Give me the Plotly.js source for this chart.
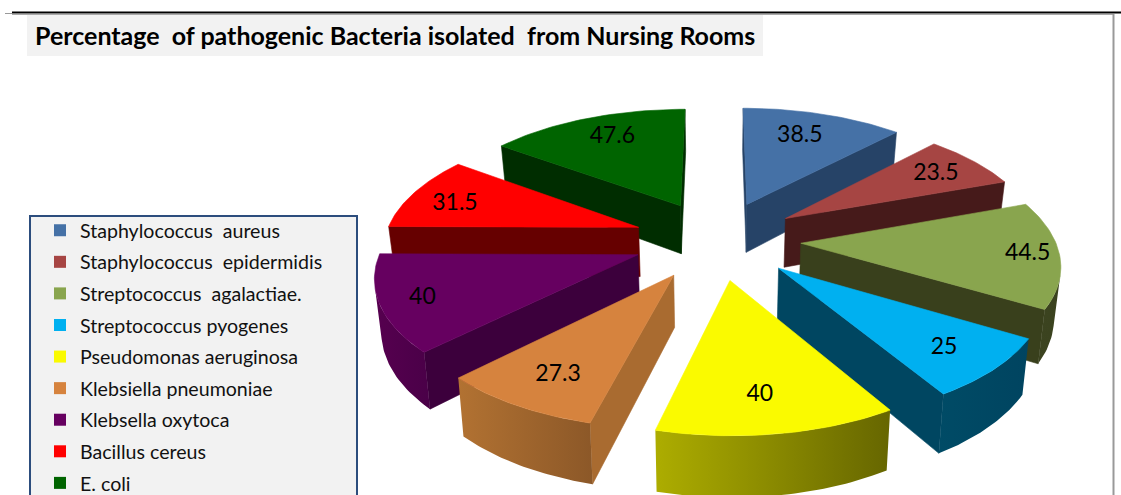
<!DOCTYPE html>
<html>
<head>
<meta charset="utf-8">
<script src="https://cdn.plot.ly/plotly-3.0.1.min.js"></script>
<style>html,body{margin:0;padding:0;background:#fff;overflow:hidden}</style>
</head>
<body>
<div id="chart" style="width:1121px;height:495px"></div>
<script>
// ---- data ----
var categories = ["Staphylococcus  aureus","Staphylococcus  epidermidis","Streptococcus  agalactiae.","Streptococcus pyogenes","Pseudomonas aeruginosa","Klebsiella pneumoniae","Klebsella oxytoca","Bacillus cereus","E. coli"];
var values = [38.5,23.5,44.5,25,40,27.3,40,31.5,47.6];
var topColors = ["#4571a6","#a64543","#89a54e","#00b0f0","#fafa00","#d6833e","#660060","#ff0000","#006400"];
var cutColors = ["#264367","#461a1a","#39401c","#004661","#6a6a00","#a96b30","#3c003c","#660000","#002d00"];
var wallLeft  = ["#3a5f8c","#5a2020","#3c4420","#004b66","#adad00","#b27232","#56004f","#7a0000","#003a00"];
var wallRight = ["#2a4a70","#461a1a","#3a421e","#004460","#666600","#8c5828","#4a0048","#660000","#002d00"];
var labelDx = [-9,0,23,-1,-7,5,-14,-5,8];
var labelDy = [5,2,2,2,-2,0,5,5,2];
var drawOrder = [0,8,1,7,2,6,3,5,4];

// ---- projection of the exploded 3-D pie ----
var CX=717, CY=239.5, AX=254, BY=119.5, KP=0.145, EXPL=0.33, DEPTH=50, SHRINK=0.98, LABEL_R=1.12;
function persp(X,Y){var s=1/(1+KP*Y);return {x:CX+AX*X*s,y:CY-BY*Y*s,s:s};}
function lower(p){return {x:CX+(p.x-CX)*SHRINK,y:p.y+DEPTH*p.s};}
function rad(v,total){return v/total*2*Math.PI;}
function area(pts){var a=0;for(var i=0;i<pts.length;i++){var p=pts[i],q=pts[(i+1)%pts.length];a+=p.x*q.y-q.x*p.y;}return a/2;}
function poly(pts,color,extra){
  var xs=pts.map(function(p){return p.x;}),ys=pts.map(function(p){return p.y;});
  xs.push(xs[0]);ys.push(ys[0]);
  var t={type:'scatter',mode:'lines',x:xs,y:ys,fill:'toself',fillcolor:color,line:{color:color,width:0.6},showlegend:false,hoverinfo:'skip'};
  if(extra){for(var k in extra)t[k]=extra[k];}
  return t;
}
var total=values.reduce(function(a,b){return a+b;},0);
var starts=[],c=0;values.forEach(function(v){starts.push(c);c+=v;});
var traces=[],labelX=[],labelY=[],labelT=[];

// legend entries
categories.forEach(function(name,i){
  traces.push({type:'scatter',mode:'markers',x:[null],y:[null],name:name,legendgroup:'g'+i,showlegend:true,
    marker:{symbol:'square',size:12,color:topColors[i]},hoverinfo:'skip'});
});

drawOrder.forEach(function(i){
  var t0=rad(starts[i],total),t1=rad(starts[i]+values[i],total),mid=(t0+t1)/2;
  var ax=EXPL*Math.sin(mid),ay=EXPL*Math.cos(mid);
  var apex=persp(ax,ay),n=40,arc=[];
  for(var k=0;k<=n;k++){var th=t0+(t1-t0)*k/n;arc.push(persp(ax+Math.sin(th),ay+Math.cos(th)));}
  var apexB=lower(apex),arcB=arc.map(lower),pN=arc[n],p0=arc[0];
  // cut faces
  var f1=[apex,pN,arcB[n],apexB],f0=[p0,apex,apexB,arcB[0]];
  if(area(f0)>0)traces.push(poly(f0,cutColors[i]));
  if(area(f1)>0)traces.push(poly(f1,cutColors[i]));
  // outer wall: only the front-facing part of the rim
  var run=[];
  function flush(){
    if(run.length<2){run=[];return;}
    var tops=run.map(function(j){return arc[j];}),bots=run.map(function(j){return arcB[j];}).reverse();
    traces.push(poly(tops.concat(bots),wallRight[i],{fillgradient:{type:'horizontal',colorscale:[[0,wallLeft[i]],[1,wallRight[i]]]},line:{width:0}}));
    run=[];
  }
  for(var j=0;j<n;j++){
    var q=[arc[j+1],arc[j],arcB[j],arcB[j+1]];
    if(area(q)>0){if(!run.length)run.push(j);run.push(j+1);}else flush();
  }
  flush();
  // top surface
  traces.push(poly([apex].concat(arc),topColors[i]));
  var lp=persp(LABEL_R*Math.sin(mid),LABEL_R*Math.cos(mid));
  labelX.push(lp.x+labelDx[i]);labelY.push(lp.y+labelDy[i]);labelT.push(String(values[i]));
});
traces.push({type:'scatter',mode:'text',x:labelX,y:labelY,text:labelT,textposition:'middle center',
  textfont:{family:'Lato, sans-serif',size:23,color:'#000'},showlegend:false,hoverinfo:'skip'});

var layout={
  width:1121,height:495,margin:{l:0,r:0,t:0,b:0,autoexpand:false},
  paper_bgcolor:'#fff',plot_bgcolor:'#fff',
  xaxis:{range:[0,1121],visible:false,fixedrange:true},
  yaxis:{range:[495,0],visible:false,fixedrange:true},
  title:{text:'<b>Percentage  of pathogenic Bacteria isolated  from Nursing Rooms</b>',x:35/1121,xanchor:'left',y:1-36/495,yanchor:'middle',
    font:{family:'Lato, sans-serif',size:25,color:'#000'}},
  legend:{x:40/1121,xanchor:'left',y:1-211/495,yanchor:'top',bgcolor:'rgba(0,0,0,0)',borderwidth:0,
    font:{family:'Lato, sans-serif',size:19.6,color:'#111'},traceorder:'grouped',tracegroupgap:3.1,entrywidth:270,entrywidthmode:'pixels'},
  shapes:[
    {type:'rect',xref:'x',yref:'y',x0:27,x1:763,y0:15,y1:56,fillcolor:'#f2f2f2',line:{width:0},layer:'below'},
    {type:'rect',xref:'x',yref:'y',x0:30,x1:357,y0:216,y1:520,fillcolor:'#f2f2f2',line:{color:'#2c4d7d',width:2},layer:'below'},
    {type:'line',xref:'x',yref:'y',x0:5,x1:12,y0:13.5,y1:13.5,line:{color:'#999',width:1}},
    {type:'line',xref:'x',yref:'y',x0:12,x1:1113,y0:14.5,y1:14.5,line:{color:'#aaa',width:1}},
    {type:'line',xref:'x',yref:'y',x0:1113.5,x1:1113.5,y0:14,y1:495,line:{color:'#999',width:2}},
    {type:'line',xref:'x',yref:'y',x0:12,x1:1121,y0:12.5,y1:12.5,line:{color:'#000',width:2}}
  ]
};
Plotly.newPlot('chart',traces,layout,{displayModeBar:false,staticPlot:true});
</script>
</body>
</html>
